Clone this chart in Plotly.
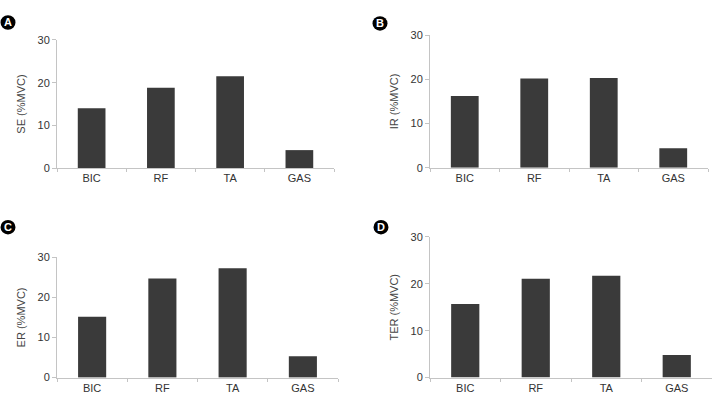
import plotly.graph_objects as go

categories = ["BIC", "RF", "TA", "GAS"]
se_values = [14.0, 18.8, 21.5, 4.2]
ir_values = [16.2, 20.2, 20.3, 4.4]
er_values = [15.2, 24.7, 27.3, 5.3]
ter_values = [15.7, 21.1, 21.7, 4.8]
y_titles = ["SE (%MVC)", "IR (%MVC)", "ER (%MVC)", "TER (%MVC)"]
panel_letters = ["A", "B", "C", "D"]
y_ticks = [0, 10, 20, 30]

W, H = 716, 404
# pixel layout: (x0, x1, y_top(30), y_bottom(0))
panels_px = [
    (57, 334, 35, 167),
    (430, 708, 30, 166.7),
    (57, 338, 259, 383),
    (430, 712, 238, 383),
]
badges_px = [(8, 17), (380, 18), (8, 228), (381, 228)]
series = [se_values, ir_values, er_values, ter_values]

fig = go.Figure()
font = "Liberation Sans, Arial, sans-serif"
for i, (vals, (x0, x1, yt, yb)) in enumerate(zip(series, panels_px)):
    n = "" if i == 0 else str(i + 1)
    fig.add_trace(go.Bar(x=categories, y=vals, marker=dict(color="#3a3a3a", line=dict(width=0)),
                         xaxis="x" + n, yaxis="y" + n, showlegend=False))
    fig.layout["xaxis" + n] = dict(
        domain=[x0 / W, x1 / W], anchor="y" + n, range=[-0.5, 3.5],
        showline=True, linecolor="#c4c4c4", linewidth=1, ticks="outside", tickson="boundaries",
        ticklen=3, tickcolor="#c4c4c4", showgrid=False, zeroline=False,
        tickfont=dict(family=font, size=11, color="#333"),
    )
    fig.layout["yaxis" + n] = dict(
        domain=[1 - yb / H, 1 - yt / H], anchor="x" + n, range=[0, 30],
        tickvals=y_ticks, showline=True, linecolor="#c4c4c4", linewidth=1, ticks="outside",
        ticklen=4, tickcolor="#c4c4c4", showgrid=False, zeroline=False,
        tickfont=dict(family=font, size=11, color="#333"),
        title=dict(text=y_titles[i], font=dict(family=font, size=11, color="#444"), standoff=9),
    )

for letter, (cx, cy) in zip(panel_letters, badges_px):
    r = 7.5
    fig.add_shape(type="circle", xref="paper", yref="paper",
                  x0=(cx - r) / W, x1=(cx + r) / W, y0=1 - (cy + r) / H, y1=1 - (cy - r) / H,
                  fillcolor="black", line=dict(color="black", width=0))
    fig.add_annotation(x=cx / W, y=1 - cy / H, xref="paper", yref="paper", text="<b>" + letter + "</b>",
                       showarrow=False, font=dict(family=font, size=11, color="white"),
                       xanchor="center", yanchor="middle")

fig.update_layout(width=W, height=H, margin=dict(l=0, r=0, t=0, b=0),
                  paper_bgcolor="white", plot_bgcolor="white", bargap=0.6)
fig.write_html("out.html")
